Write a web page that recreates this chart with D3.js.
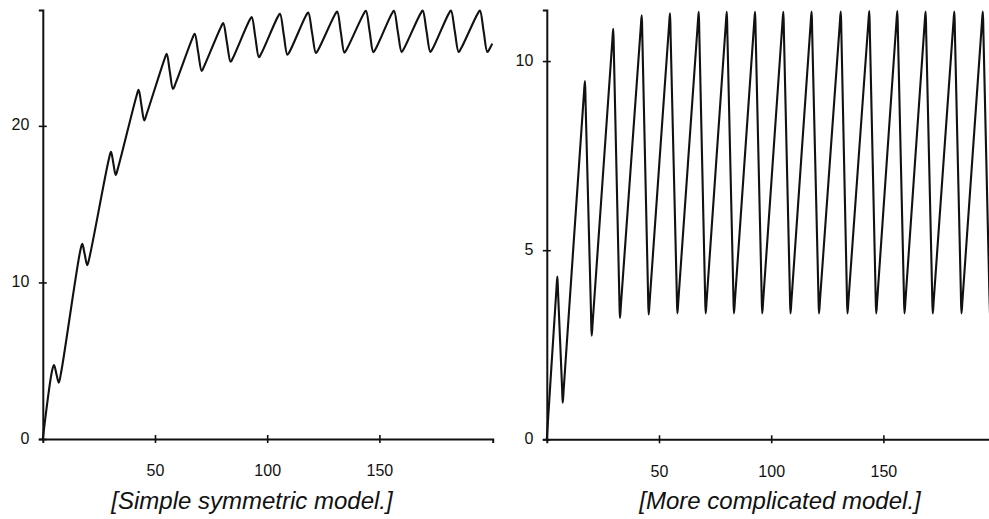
<!DOCTYPE html>
<html>
<head>
<meta charset="utf-8">
<script src="https://cdn.jsdelivr.net/npm/d3@7"></script>
<style>
  body { margin: 0; background: #fff; }
  svg { display: block; }
  .tick text { font-family: "Liberation Sans", Arial, sans-serif; font-size: 16px; fill: #111; }
  .caption { font-family: "Liberation Sans", Arial, sans-serif; font-size: 24px; font-style: italic; fill: #111; }
</style>
</head>
<body>
<script>
// time steps and values (peaks, troughs and shoulder points)
const leftT = [0, 4.2, 5.0, 6.05, 7.1, 8.1, 16.6, 17.6, 18.7, 19.8, 20.8, 29.4, 30.4, 31.45, 32.5, 33.5,
  41.7, 42.7, 43.95, 45.2, 46.2, 54.2, 55.2, 56.6, 58.0, 59.0, 66.7, 67.7, 69.25, 70.8, 71.8,
  79.4, 80.4, 82.05, 83.7, 84.7, 92.1, 93.1, 94.7, 96.3, 97.3, 104.7, 105.7, 107.35, 109.0, 110.0,
  117.3, 118.3, 120.0, 121.7, 122.7, 130.2, 131.2, 132.8, 134.4, 135.4, 143.0, 144.0, 145.65, 147.3, 148.3,
  155.5, 156.5, 158.2, 159.9, 160.9, 168.3, 169.3, 171.0, 172.7, 173.7, 180.9, 181.9, 183.6, 185.3, 186.3,
  193.8, 194.8, 196.45, 198.1, 199.1, 200.3];
const leftV = [0, 4.40, 4.73, 4.17, 3.60, 4.20, 11.95, 12.46, 11.78, 11.10, 11.60, 17.85, 18.34, 17.60, 16.87, 17.30,
  21.88, 22.30, 21.32, 20.34, 20.72, 24.25, 24.60, 23.47, 22.35, 22.65, 25.60, 25.88, 24.69, 23.50, 23.78,
  26.32, 26.56, 25.32, 24.09, 24.33, 26.74, 26.95, 25.67, 24.39, 24.60, 26.96, 27.16, 25.85, 24.54, 24.74,
  27.05, 27.24, 25.94, 24.65, 24.85, 27.11, 27.30, 25.99, 24.68, 24.88, 27.16, 27.35, 26.03, 24.71, 24.91,
  27.16, 27.35, 26.03, 24.72, 24.92, 27.17, 27.36, 26.04, 24.72, 24.92, 27.17, 27.36, 26.04, 24.72, 24.92,
  27.17, 27.36, 26.04, 24.72, 24.92, 25.25];

const rightT = [0, 4.3, 4.7, 5.0, 6.8, 7.1, 7.5, 16.5, 17.0, 17.3, 19.7, 20.0, 20.5, 29.1, 29.6, 29.9,
  32.3, 32.6, 33.1, 41.8, 42.3, 42.6, 45.1, 45.4, 45.9, 54.4, 54.9, 55.2, 57.9, 58.2, 58.7,
  67.2, 67.7, 68.0, 70.5, 70.8, 71.3, 79.7, 80.2, 80.5, 83.1, 83.4, 83.9, 92.3, 92.8, 93.1,
  95.7, 96.0, 96.5, 104.9, 105.4, 105.7, 108.3, 108.6, 109.1, 117.5, 118.0, 118.3, 121.0, 121.3, 121.8,
  130.5, 131.0, 131.3, 133.7, 134.0, 134.5, 143.2, 143.7, 144.0, 146.5, 146.8, 147.3, 155.7, 156.2, 156.5,
  159.1, 159.4, 159.9, 168.3, 168.8, 169.1, 171.7, 172.0, 172.5, 181.1, 181.6, 181.9, 184.5, 184.8, 185.3,
  193.8, 194.3, 194.6, 197.2, 197.5];
const rightV = [0, 3.98, 4.30, 3.90, 1.38, 0.97, 1.30, 9.10, 9.47, 8.85, 3.35, 2.74, 3.14, 10.45, 10.85, 10.20,
  3.81, 3.21, 3.61, 10.83, 11.21, 10.56, 3.90, 3.30, 3.70, 10.88, 11.26, 10.61, 3.93, 3.33, 3.73,
  10.92, 11.30, 10.65, 3.93, 3.33, 3.73, 10.92, 11.30, 10.65, 3.93, 3.33, 3.73, 10.92, 11.30, 10.65,
  3.93, 3.33, 3.73, 10.92, 11.30, 10.65, 3.93, 3.33, 3.73, 10.93, 11.31, 10.66, 3.93, 3.33, 3.73,
  10.93, 11.31, 10.66, 3.93, 3.33, 3.73, 10.94, 11.32, 10.67, 3.93, 3.33, 3.73, 10.94, 11.32, 10.67,
  3.93, 3.33, 3.73, 10.93, 11.31, 10.66, 3.93, 3.33, 3.73, 10.93, 11.31, 10.66, 3.93, 3.33, 3.73,
  10.93, 11.31, 10.66, 3.93, 3.33];

const xTicks = [50, 100, 150];
const leftYTicks = [0, 10, 20];
const rightYTicks = [0, 5, 10];
const leftCaption = "[Simple symmetric model.]";
const rightCaption = "[More complicated model.]";

const width = 989, height = 519;

const svg = d3.select('body').append('svg')
  .attr('width', width)
  .attr('height', height);

function panel(opts) {
  let x = d3.scaleLinear().domain([0, 200.5]).range([opts.left, opts.left + 2.244 * 200.5]);
  let y = d3.scaleLinear().domain([0, opts.yMax]).range([opts.bottom, 10]);

  let g = svg.append('g');

  let xAxis = g.append('g')
    .attr('transform', `translate(0,${opts.bottom})`)
    .call(d3.axisBottom(x).tickValues(xTicks).tickSizeOuter(0).tickSize(4).tickFormat(d3.format('d')));
  xAxis.select('.domain').attr('stroke', '#111').attr('stroke-width', 2);
  xAxis.selectAll('.tick line').attr('y1', -4).attr('y2', 4).attr('stroke', '#111').attr('stroke-width', 1.6);
  xAxis.selectAll('.tick text').attr('y', 26).attr('dy', '0.71em');

  let yAxis = g.append('g')
    .attr('transform', `translate(${opts.left},0)`)
    .call(d3.axisLeft(y).tickValues(opts.yTicks).tickSizeOuter(0).tickSize(4).tickFormat(d3.format('d')));
  yAxis.select('.domain').attr('stroke', '#111').attr('stroke-width', 2);
  yAxis.selectAll('.tick line').attr('x1', -4).attr('x2', 4).attr('stroke', '#111').attr('stroke-width', 1.6);
  yAxis.selectAll('.tick text').attr('x', -13.5).attr('dy', '0.25em');

  let line = d3.line()
    .x((d, i) => x(opts.t[i]))
    .y(d => y(d))
    .curve(d3.curveCatmullRom.alpha(0.5));

  g.append('path')
    .datum(opts.v)
    .attr('d', line)
    .attr('fill', 'none')
    .attr('stroke', '#111')
    .attr('stroke-width', 2.1)
    .attr('stroke-linejoin', 'round');

  g.append('text')
    .attr('class', 'caption')
    .attr('x', opts.captionX)
    .attr('y', 509)
    .attr('text-anchor', 'middle')
    .text(opts.caption);
}

panel({ left: 42.8, bottom: 439, yMax: 27.4, yTicks: leftYTicks, t: leftT, v: leftV, caption: leftCaption, captionX: 252 });
panel({ left: 546.8, bottom: 439.3, yMax: 11.35, yTicks: rightYTicks, t: rightT, v: rightV, caption: rightCaption, captionX: 780 });
</script>
</body>
</html>
